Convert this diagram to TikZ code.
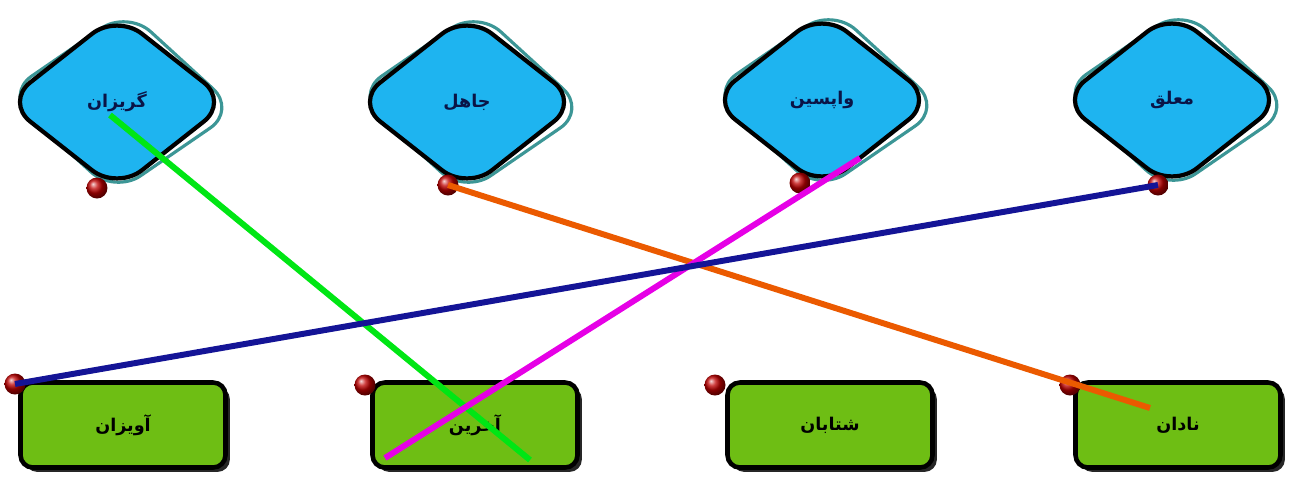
\documentclass[tikz,border=0pt]{standalone}
\usepackage{fontspec}
\newfontfamily\arabicfont[Script=Arabic]{DejaVu Sans}
\TeXXeTstate=1
\usetikzlibrary{shapes.geometric,shadows}
\definecolor{skyfill}{RGB}{30,180,240}
\definecolor{skyedge}{RGB}{60,150,150}
\definecolor{leaf}{RGB}{110,190,20}
\definecolor{wordblue}{RGB}{10,20,70}
\definecolor{linkgreen}{RGB}{0,230,20}
\definecolor{linkorange}{RGB}{235,90,0}
\definecolor{linkpink}{RGB}{230,0,230}
\definecolor{linkblue}{RGB}{20,20,150}

\begin{document}
\begin{tikzpicture}[x=0.02cm, y=-0.02cm,
		word/.style={draw=black, line width=2.4pt, diamond, aspect=1.3, rounded corners=18pt,
			minimum width=4.5cm, minimum height=3.55cm, fill=skyfill, text=wordblue,
			font=\arabicfont\bfseries\fontsize{10}{12}\selectfont},
		wordedge/.style={draw=skyedge, line width=1.8pt, diamond, aspect=1.3, rounded corners=18pt,
			minimum width=4.65cm, minimum height=3.7cm, rotate=-4},
		answer/.style={draw=black, line width=2.6pt, rectangle, rounded corners=7pt,
			minimum width=4.1cm, minimum height=1.7cm, fill=leaf,
			drop shadow={shadow xshift=2.5pt, shadow yshift=-2.5pt, fill=black, opacity=.85},
			font=\arabicfont\bfseries\fontsize{10}{12}\selectfont},
		pin/.style={circle, minimum size=0.42cm, inner sep=0pt, shading=ball, ball color=red!75!black},
		link/.style={line width=3.4pt},
		]
		\useasboundingbox (0,0) rectangle (1302,495);

		\node[wordedge] at (121,102) {};
		\node[wordedge] at (471,102) {};
		\node[wordedge] at (826,100) {};
		\node[wordedge] at (1176,100) {};

		\node[word] (w1) at (117,102) {\beginR گریزان\endR};
		\node[word] (w2) at (467,102) {\beginR جاهل\endR};
		\node[word] (w3) at (822,100) {\beginR واپسین\endR};
		\node[word] (w4) at (1172,100) {\beginR معلق\endR};

		\node[pin] (p1) at (97,188) {};
		\node[pin] (p2) at (448,185) {};
		\node[pin] (p3) at (800,183) {};
		\node[pin] (p4) at (1158,185) {};

		\node[answer] (a1) at (123,425) {\beginR آویزان\endR};
		\node[answer] (a2) at (475,425) {\beginR آخرین\endR};
		\node[answer] (a3) at (830,425) {\beginR شتابان\endR};
		\node[answer] (a4) at (1178,425) {\beginR نادان\endR};

		\node[pin] (q1) at (15,384) {};
		\node[pin] (q2) at (365,385) {};
		\node[pin] (q3) at (715,385) {};
		\node[pin] (q4) at (1070,385) {};

		\coordinate (g1) at (110,115);
		\coordinate (g2) at (530,460);
		\coordinate (o2) at (1150,408);
		\coordinate (m1) at (860,158);
		\coordinate (m2) at (385,458);

		\draw[link, linkgreen] (g1) -- (g2);
		\draw[link, linkorange] (p2.center) -- (o2);
		\draw[link, linkpink] (m1) -- (m2);
		\draw[link, linkblue] (p4.center) -- (q1.center);
	\end{tikzpicture}
\end{document}
